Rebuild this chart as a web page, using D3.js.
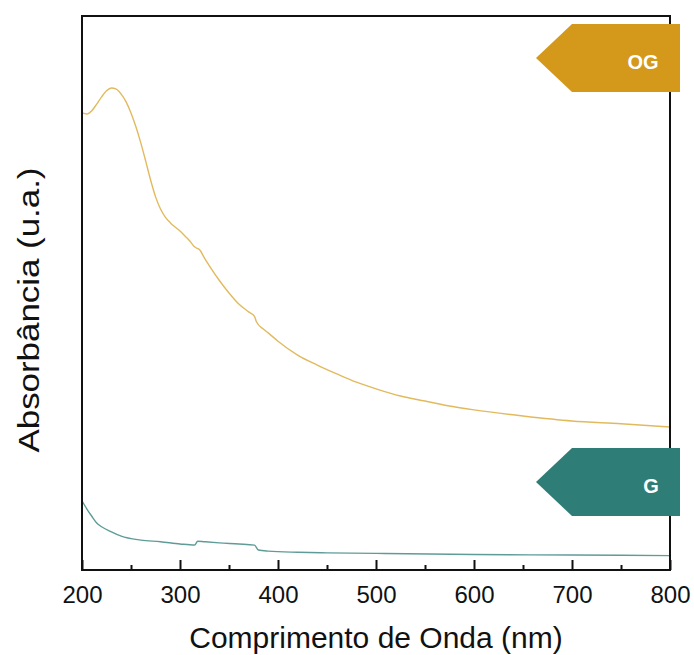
<!DOCTYPE html>
<html>
<head>
<meta charset="utf-8">
<script src="https://cdn.jsdelivr.net/npm/d3@7"></script>
<style>
  html, body { margin: 0; padding: 0; background: #fff; }
  svg { display: block; }
  text { font-family: "Liberation Sans", Arial, sans-serif; }
</style>
</head>
<body>
<svg id="chart" width="694" height="655"></svg>
<script>
// UV-Vis absorbance spectra (arbitrary units)
const wavelengthsOG = [200, 205, 210, 215, 220, 225, 230, 235, 240, 245, 250, 255, 260, 265, 270, 275, 280, 285, 290, 295, 300, 305, 310, 314, 317, 320, 325, 330, 340, 350, 360, 370, 376, 378, 385, 390, 400, 420, 440, 460, 480, 500, 525, 550, 575, 600, 650, 700, 750, 800];
const absorbanceOG = [0.825, 0.823, 0.829, 0.841, 0.854, 0.865, 0.870, 0.868, 0.859, 0.845, 0.825, 0.800, 0.771, 0.738, 0.704, 0.674, 0.652, 0.637, 0.627, 0.619, 0.612, 0.603, 0.594, 0.585, 0.581, 0.578, 0.563, 0.549, 0.523, 0.500, 0.480, 0.466, 0.458, 0.448, 0.435, 0.428, 0.413, 0.388, 0.370, 0.354, 0.339, 0.327, 0.314, 0.305, 0.296, 0.289, 0.278, 0.269, 0.264, 0.258];

const wavelengthsG = [200, 205, 210, 215, 220, 230, 240, 260, 280, 300, 315, 318, 325, 340, 360, 376, 380, 390, 420, 450, 500, 600, 700, 800];
const absorbanceG = [0.125, 0.110, 0.097, 0.085, 0.078, 0.069, 0.061, 0.054, 0.051, 0.047, 0.045, 0.052, 0.051, 0.049, 0.047, 0.045, 0.036, 0.034, 0.032, 0.031, 0.030, 0.028, 0.027, 0.026];

const seriesNames = ["OG", "G"];
const seriesColors = ["#d4991b", "#2e7e77"];
const lineColors = ["#e2ba5e", "#5f9c97"];

const majorTicks = [200, 300, 400, 500, 600, 700, 800];
const minorTicks = [250, 350, 450, 550, 650, 750];

const xTitle = "Comprimento de Onda (nm)";
const yTitle = "Absorbância (u.a.)";

const margin = { top: 16, right: 24, bottom: 85, left: 82 };
const W = 694, H = 655;
const innerW = W - margin.left - margin.right;
const innerH = H - margin.top - margin.bottom;

const svg = d3.select("#chart");
const g = svg.append("g").attr("transform", `translate(${margin.left},${margin.top})`);

const x = d3.scaleLinear().domain([200, 800]).range([0, innerW]);
const y = d3.scaleLinear().domain([0, 1]).range([innerH, 0]);

const line = d3.line()
  .x(d => x(d[0]))
  .y(d => y(d[1]))
  .curve(d3.curveMonotoneX);

const series = [
  d3.zip(wavelengthsOG, absorbanceOG),
  d3.zip(wavelengthsG, absorbanceG)
];

// spectra
series.forEach((pts, i) => {
  g.append("path")
    .datum(pts)
    .attr("fill", "none")
    .attr("stroke", lineColors[i])
    .attr("stroke-width", 1.4)
    .attr("d", line);
});

// bottom axis: major and minor ticks pointing inward
const axisMajor = d3.axisBottom(x).tickValues(majorTicks).tickSizeInner(-10).tickSizeOuter(0).tickPadding(0).tickFormat(d3.format("d"));
const axisMinor = d3.axisBottom(x).tickValues(minorTicks).tickSizeInner(-5).tickSizeOuter(0).tickFormat("");

const gxMinor = g.append("g").attr("transform", `translate(0,${innerH})`).call(axisMinor);
const gx = g.append("g").attr("transform", `translate(0,${innerH})`).call(axisMajor);
[gx, gxMinor].forEach(a => {
  a.select(".domain").remove();
  a.selectAll(".tick line").attr("stroke", "#111").attr("stroke-width", 2);
});
gx.selectAll(".tick text")
  .attr("y", 33)
  .attr("dy", 0)
  .attr("fill", "#111")
  .style("font-size", "24px");

// frame
g.append("rect")
  .attr("x", 0).attr("y", 0)
  .attr("width", innerW).attr("height", innerH)
  .attr("fill", "none")
  .attr("stroke", "#111")
  .attr("stroke-width", 2);

// axis titles
svg.append("text")
  .attr("x", margin.left + innerW / 2)
  .attr("y", 648)
  .attr("text-anchor", "middle")
  .attr("fill", "#111")
  .style("font-size", "30px")
  .text(xTitle);

svg.append("text")
  .attr("transform", `translate(39,${margin.top + 294}) rotate(-90)`)
  .attr("text-anchor", "middle")
  .attr("fill", "#111")
  .attr("textLength", 285)
  .attr("lengthAdjust", "spacingAndGlyphs")
  .style("font-size", "30px")
  .text(yTitle);

// series tags on the right edge
const tagTops = [8, 432];
const tagH = 68, tagTip = 36;
const tagLeft = innerW - 134;
const tagRight = innerW + 10;
seriesNames.forEach((name, i) => {
  const t = g.append("g").attr("transform", `translate(0,${tagTops[i]})`);
  const pts = [
    [tagLeft, tagH / 2],
    [tagLeft + tagTip, 0],
    [tagRight, 0],
    [tagRight, tagH],
    [tagLeft + tagTip, tagH]
  ];
  t.append("polygon")
    .attr("points", pts.map(p => p.join(",")).join(" "))
    .attr("fill", seriesColors[i]);
  t.append("text")
    .attr("x", i === 0 ? tagRight - 37 : tagRight - 29)
    .attr("y", tagH / 2 + 11)
    .attr("text-anchor", "middle")
    .attr("fill", "#fff")
    .style("font-size", "20px")
    .style("font-weight", "bold")
    .text(name);
});
</script>
</body>
</html>
